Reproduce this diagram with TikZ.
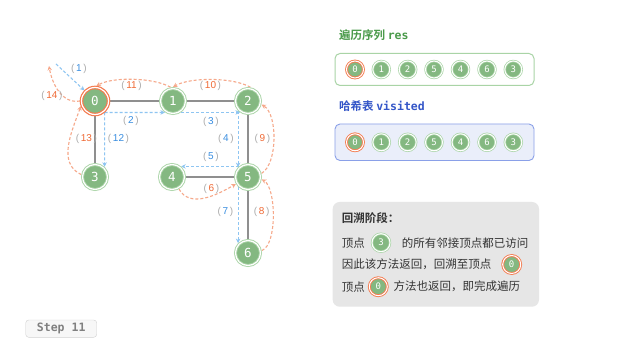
\documentclass[tikz,border=0pt]{standalone}
\usepackage{fontspec}
\setmainfont{Liberation Sans}
\newfontfamily\cjk{Noto Sans CJK SC}[BoldFont={Noto Sans CJK SC Bold}]
\newfontfamily\mono{DejaVu Sans Mono}
\usetikzlibrary{arrows.meta,backgrounds}
\definecolor{ngreen}{HTML}{84B881}
\definecolor{ringgreen}{HTML}{A9D4A6}
\definecolor{ringorange}{HTML}{F47B4F}
\definecolor{dblue}{HTML}{8EC5F2}
\definecolor{dorange}{HTML}{F6A88A}
\definecolor{numblue}{HTML}{3A8EE0}
\definecolor{numorange}{HTML}{F06A35}
\definecolor{pgray}{HTML}{AAAAAA}
\definecolor{edgegray}{HTML}{8F8F8F}
\definecolor{titlegreen}{HTML}{4A9A4A}
\definecolor{titleblue}{HTML}{3456C8}
\definecolor{visfill}{HTML}{EAEEFA}
\definecolor{visdraw}{HTML}{8AA0E8}
\definecolor{infofill}{HTML}{E6E6E6}
\definecolor{txtdark}{HTML}{333333}
\newcommand\plab[1]{\textcolor{pgray}{(}\,#1\,\textcolor{pgray}{)}}
\begin{document}
\begin{tikzpicture}[x=1pt,y=-1pt,
  gnode/.style={circle, fill=ngreen, draw=ringgreen, double=white, line width=0.9pt,
    double distance=1.2pt, minimum size=25pt, inner sep=0pt, outer sep=1.5pt,
    text=white, font=\mono\fontsize{12.5}{12.5}\selectfont},
  onode/.style={gnode, draw=ringorange, line width=1.2pt, minimum size=27pt},
  snode/.style={circle, fill=ngreen, draw=ringgreen, double=white, line width=0.7pt,
    double distance=1pt, minimum size=17pt, inner sep=0pt,
    text=white, font=\mono\fontsize{9}{9}\selectfont},
  sonode/.style={snode, draw=ringorange, line width=0.9pt},
  edge/.style={draw=edgegray, line width=1.3pt},
  barrow/.style={draw=dblue, line width=1.1pt, dash pattern=on 3pt off 2pt,
    -{Stealth[length=4.5pt,width=4.5pt]}},
  oarrow/.style={draw=dorange, line width=1.1pt, dash pattern=on 3pt off 2pt,
    -{Stealth[length=4.5pt,width=4.5pt]}},
  blab/.style={font=\fontsize{10}{10}\selectfont, text=numblue, inner sep=0pt},
  olab/.style={font=\fontsize{10}{10}\selectfont, text=numorange, inner sep=0pt},
  itxt/.style={anchor=west, inner sep=0pt, text=txtdark, font=\cjk\fontsize{11.5}{11.5}\selectfont},
]
% graph nodes
\node[onode] (n0) at (95,101) {0};
\node[gnode] (n1) at (173,101) {1};
\node[gnode] (n2) at (248,101) {2};
\node[gnode] (n3) at (95,177) {3};
\node[gnode] (n4) at (172,177) {4};
\node[gnode] (n5) at (248,177) {5};
\node[gnode] (n6) at (248,253) {6};

\begin{scope}[on background layer]
\path[fill=white, use as bounding box] (0,0) rectangle (626,347);
% edges
\path[edge] (n0) -- (n1);
\path[edge] (n1) -- (n2);
\path[edge] (n0) -- (n3);
\path[edge] (n2) -- (n5);
\path[edge] (n4) -- (n5);
\path[edge] (n5) -- (n6);

% blue dashed (visits)
\coordinate (c1) at (56,64);
\draw[barrow] (c1) -- (n0.135);
\draw[barrow] (n0.-50) -- (n1.235);
\draw[barrow] (n1.-55) -- (n2.235);
\draw[barrow] (n2.225) -- (n5.135);
\draw[barrow] (n5.131) -- (n4.49);
\draw[barrow] (n5.225) -- (n6.135);
\draw[barrow] (n0.-50) -- (n3.47);

% orange dashed (returns)
\draw[oarrow] (n4.-60) to[out=-60,in=-150] (n5.210);
\draw[oarrow] (n6.10) to[out=20,in=-30,looseness=0.6] (n5.-10);
\draw[oarrow] (n5.15) to[out=30,in=-30,looseness=0.7] (n2.-15);
\draw[oarrow] (n2.80) to[out=150,in=30,looseness=0.66] (n1.90);
\draw[oarrow] (n1.100) to[out=150,in=30,looseness=0.66] (n0.85);
\draw[oarrow] (n3.170) to[out=155,in=-110,looseness=1.0] (n0.200);
\coordinate (c14) at (49,66);
\draw[oarrow] (n0.180) to[out=190,in=-80] (c14);
\end{scope}

% labels
\node[blab] (l1) at (79,69) {\plab{1}};
\node[blab] (l2) at (131,121) {\plab{2}};
\node[blab] (l3) at (211,121.5) {\plab{3}};
\node[blab] (l4) at (226,139) {\plab{4}};
\node[blab] (l5) at (211,157) {\plab{5}};
\node[olab] (l6) at (211.5,189) {\plab{6}};
\node[blab] (l7) at (225.5,211.7) {\plab{7}};
\node[olab] (l8) at (261.7,211.7) {\plab{8}};
\node[olab] (l9) at (262.3,139) {\plab{9}};
\node[olab] (l10) at (210.5,86) {\plab{10}};
\node[olab] (l11) at (131.5,86) {\plab{11}};
\node[blab] (l12) at (118.5,139) {\plab{12}};
\node[olab] (l13) at (86.5,139) {\plab{13}};
\node[olab] (l14) at (52,96) {\plab{14}};

% res
\node[anchor=west, inner sep=0pt, text=titlegreen] (tres) at (339,35)
  {\cjk\bfseries\fontsize{11.5}{11.5}\selectfont 遍历序列\ \mono\bfseries res};
\draw[draw=ringgreen, line width=1pt, fill=white, rounded corners=5pt] (335,53.5) rectangle (534,85.5);
\node[sonode] (r0) at (355,69.5) {0};
\node[snode] (r1) at (381.3,69.5) {1};
\node[snode] (r2) at (407.7,69.5) {2};
\node[snode] (r3) at (434,69.5) {5};
\node[snode] (r4) at (460.5,69.5) {4};
\node[snode] (r5) at (487,69.5) {6};
\node[snode] (r6) at (513.3,69.5) {3};

% visited
\node[anchor=west, inner sep=0pt, text=titleblue] (tvis) at (339,105.7)
  {\cjk\bfseries\fontsize{11.5}{11.5}\selectfont 哈希表\ \mono\bfseries visited};
\draw[draw=visdraw, line width=0.9pt, fill=visfill, rounded corners=5pt] (335,124) rectangle (534,160.5);
\node[sonode] (v0) at (355,142.3) {0};
\node[snode] (v1) at (381.3,142.3) {1};
\node[snode] (v2) at (407.7,142.3) {2};
\node[snode] (v3) at (434,142.3) {5};
\node[snode] (v4) at (460.5,142.3) {4};
\node[snode] (v5) at (487,142.3) {6};
\node[snode] (v6) at (513.3,142.3) {3};

% info box
\fill[infofill, rounded corners=7pt] (332.7,202) rectangle (539,306.7);
\node[itxt, font=\cjk\bfseries\fontsize{11.5}{11.5}\selectfont] (t0) at (341.7,218.3) {回溯阶段：};
\node[itxt] (t1a) at (341.7,242.7) {顶点};
\node[snode, minimum size=18pt] (i3) at (381,242.7) {3};
\node[itxt] (t1b) at (401.7,242.7) {的所有邻接顶点都已访问};
\node[itxt] (t2a) at (341.7,264.5) {因此该方法返回，回溯至顶点};
\node[sonode, minimum size=18pt] (i0a) at (511.7,264.5) {0};
\node[itxt] (t3a) at (341.7,286.7) {顶点};
\node[sonode, minimum size=18pt] (i0b) at (378.3,286.7) {0};
\node[itxt] (t3b) at (393.3,286.7) {方法也返回，即完成遍历};

% step box
\draw[draw=black!18, fill=black!3, rounded corners=3pt] (25.7,320) rectangle (96.7,337.3);
\node[inner sep=0pt, text=black!50, font=\mono\bfseries\fontsize{11.5}{11.5}\selectfont] (step) at (61.2,328.7) {Step 11};
\end{tikzpicture}
\end{document}
